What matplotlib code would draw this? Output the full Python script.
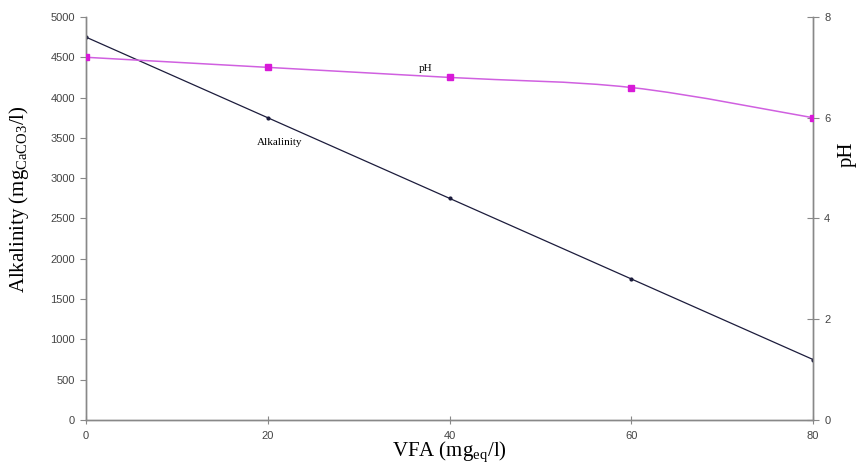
import matplotlib
matplotlib.use("Agg")
import matplotlib.pyplot as plt
import numpy as np
from matplotlib.path import Path
from matplotlib.patches import PathPatch

vfa = [0, 20, 40, 60, 80]
alkalinity = [4750, 3750, 2750, 1750, 750]
ph = [7.2, 7.0, 6.8, 6.6, 6.0]

x_ticks = [0, 20, 40, 60, 80]
y_left_ticks = [0, 500, 1000, 1500, 2000, 2500, 3000, 3500, 4000, 4500, 5000]
y_right_ticks = [0, 2, 4, 6, 8]

plt.rcParams['mathtext.fontset'] = 'custom'
plt.rcParams['mathtext.rm'] = 'Liberation Sans'

serif = 'Liberation Serif'
tick_color = '#444444'
spine_color = '#888888'

fig = plt.figure(figsize=(8.61, 4.68), dpi=100)
ax = fig.add_axes([0.0999, 0.1026, 0.8444, 0.8611])
ax2 = ax.twinx()

# Alkalinity line
ax.plot(vfa, alkalinity, color='#1c1c3c', lw=0.9, marker='o', ms=2.0, zorder=3)

# pH smoothed curve (Catmull-Rom -> cubic Bezier, Excel-like smoothing)
xs = np.array(vfa, float)
ys = np.array(ph, float)
n = len(xs)
verts = [(xs[0], ys[0])]
codes = [Path.MOVETO]
t = 1.0 / 6.0
for i in range(n - 1):
    p0 = (xs[i - 1], ys[i - 1]) if i > 0 else (xs[i], ys[i])
    p1 = (xs[i], ys[i])
    p2 = (xs[i + 1], ys[i + 1])
    p3 = (xs[i + 2], ys[i + 2]) if i + 2 < n else (xs[i + 1], ys[i + 1])
    c1 = (p1[0] + (p2[0] - p0[0]) * t, p1[1] + (p2[1] - p0[1]) * t)
    c2 = (p2[0] - (p3[0] - p1[0]) * t, p2[1] - (p3[1] - p1[1]) * t)
    verts += [c1, c2, p2]
    codes += [Path.CURVE4] * 3
ax2.add_patch(PathPatch(Path(verts, codes), fill=False, edgecolor='#d060e0', lw=1.1, zorder=2))
ax2.plot(vfa, ph, linestyle='none', marker='s', ms=4.5, color='#d81ad8', zorder=3)

ax.set_xlim(0, 80)
ax.set_ylim(0, 5000)
ax2.set_ylim(0, 8)
ax.set_xticks(x_ticks)
ax.set_yticks(y_left_ticks)
ax2.set_yticks(y_right_ticks)

for a in (ax, ax2):
    for s in a.spines.values():
        s.set_color(spine_color)
        s.set_linewidth(1.0)
    a.spines['top'].set_visible(False)

ax.tick_params(axis='y', direction='out', length=4, width=0.8, color=spine_color,
               labelsize=8, labelcolor=tick_color, pad=4)
ax.tick_params(axis='x', direction='inout', length=6, width=0.8, color=spine_color,
               labelsize=8, labelcolor=tick_color, pad=5)
ax2.tick_params(axis='y', direction='inout', length=8, width=0.8, color=spine_color,
                labelsize=8, labelcolor=tick_color, pad=4)
for lab in ax.get_xticklabels() + ax.get_yticklabels() + ax2.get_yticklabels():
    lab.set_family('Liberation Sans')

ax.set_xlabel(r'VFA (mg$_{\mathregular{eq}}$/l)', fontsize=15, family=serif)
ax.set_ylabel(r'Alkalinity (mg$_{\mathregular{CaCO3}}$/l)', fontsize=15, family=serif)
ax2.set_ylabel('pH', fontsize=15, family=serif, rotation=90)
ax.xaxis.set_label_coords(0.5, -0.05)
ax.yaxis.set_label_coords(-0.076, 0.547)
ax2.yaxis.set_label_coords(1.034, 0.66)

ax.text(21.3, 3440, 'Alkalinity', fontsize=8, family=serif, ha='center', va='center')
ax2.text(37.4, 6.98, 'pH', fontsize=8, family=serif, ha='center', va='center')

fig.savefig('out.png', dpi=100)
